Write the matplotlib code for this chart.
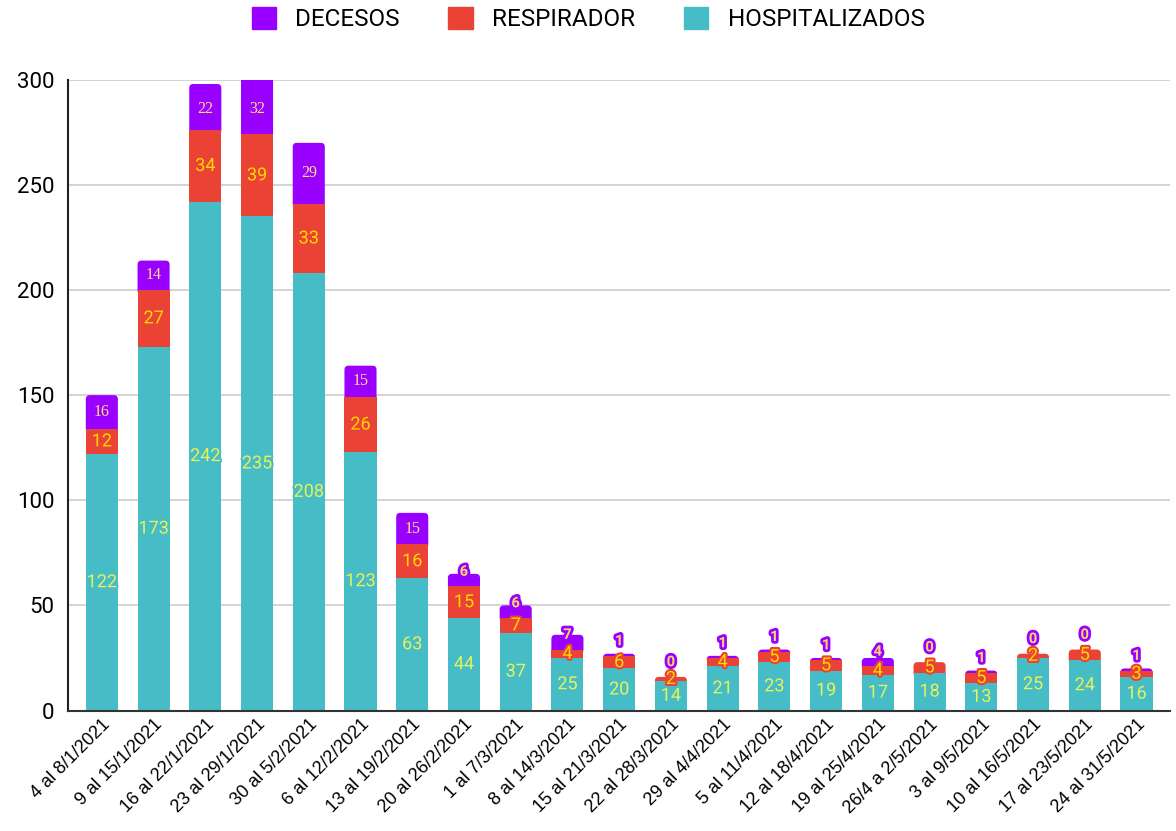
import matplotlib.pyplot as plt
import matplotlib.patheffects as pe
from matplotlib.patches import FancyBboxPatch, Patch
import numpy as np

plt.rcParams['font.family'] = ['Roboto', 'DejaVu Sans']

semanas = ['4 al 8/1/2021', '9 al 15/1/2021', '16 al 22/1/2021', '23 al 29/1/2021',
           '30 al 5/2/2021', '6 al 12/2/2021', '13 al 19/2/2021', '20 al 26/2/2021',
           '1 al 7/3/2021', '8 al 14/3/2021', '15 al 21/3/2021', '22 al 28/3/2021',
           '29 al 4/4/2021', '5 al 11/4/2021', '12 al 18/4/2021', '19 al 25/4/2021',
           '26/4 a 2/5/2021', '3 al 9/5/2021', '10 al 16/5/2021', '17 al 23/5/2021',
           '24 al 31/5/2021']
hospitalizados = [122, 173, 242, 235, 208, 123, 63, 44, 37, 25, 20, 14, 21, 23, 19, 17, 18, 13, 25, 24, 16]
respirador = [12, 27, 34, 39, 33, 26, 16, 15, 7, 4, 6, 2, 4, 5, 5, 4, 5, 5, 2, 5, 3]
decesos = [16, 14, 22, 32, 29, 15, 15, 6, 6, 7, 1, 0, 1, 1, 1, 4, 0, 1, 0, 0, 1]

c_hosp = '#46bdc6'
c_resp = '#ea4335'
c_dec = '#9900ff'

fig, ax = plt.subplots(figsize=(11.76, 8.31), dpi=100)
fig.subplots_adjust(left=0.058, right=0.995, top=0.904, bottom=0.145)

x = np.arange(len(semanas))
h = np.array(hospitalizados)
r = np.array(respirador)
d = np.array(decesos)
w = 0.62

ax.set_ylim(0, 300)
ax.set_xlim(-0.65, len(x) - 0.35)

bars_h = ax.bar(x, h, w, color=c_hosp, zorder=4)
bars_r = ax.bar(x, r, w, bottom=h, color=c_resp, zorder=3)
bars_d = ax.bar(x, d, w, bottom=h + r, color=c_dec, zorder=2)

# esquinas superiores redondeadas en el segmento más alto de cada barra
px_x = (ax.get_xlim()[1] - ax.get_xlim()[0]) / (fig.get_figwidth() * fig.dpi * 0.937)
px_y = 300 / (fig.get_figheight() * fig.dpi * 0.759)
aspect = px_y / px_x
rad = 4 * px_x
for i in range(len(x)):
    if d[i] > 0:
        seg, bot, col = bars_d[i], h[i] + r[i], c_dec
    else:
        seg, bot, col = bars_r[i], h[i], c_resp
    top = h[i] + r[i] + d[i]
    seg.set_visible(False)
    y0 = bot - 2
    box = FancyBboxPatch((x[i] - w / 2, y0), w, top - y0,
                         boxstyle=f'round,pad=0,rounding_size={rad}',
                         mutation_aspect=aspect, facecolor=col, edgecolor='none',
                         zorder=2 if col == c_dec else 3.5)
    ax.add_patch(box)

# etiquetas de valores
for i in range(len(x)):
    ax.text(x[i], h[i] / 2, str(h[i]), ha='center', va='center', fontsize=13,
            color='#e6f25a', zorder=6,
            path_effects=[pe.withStroke(linewidth=3, foreground=c_hosp)])
    ax.text(x[i], h[i] + r[i] / 2, str(r[i]), ha='center', va='center', fontsize=13,
            color='#ffd600', zorder=7,
            path_effects=[pe.withStroke(linewidth=3, foreground=c_resp)])
    top = h[i] + r[i] + d[i]
    if d[i] >= 8:
        ax.text(x[i], min(top - d[i] / 2, 286), str(d[i]), ha='center', va='center',
                fontsize=11.5, color='#ffe082', family='Liberation Serif', zorder=8)
    else:
        ax.text(x[i], top + 7 - d[i], str(d[i]), ha='center', va='center', fontsize=10.5,
                color='#ffd966', fontweight='bold', zorder=8,
                path_effects=[pe.withStroke(linewidth=4, foreground=c_dec)])

ax.set_yticks(range(0, 301, 50))
ax.tick_params(axis='y', labelsize=16, length=0, pad=10)
ax.tick_params(axis='x', length=0, pad=4)
ax.set_xticks(x)
ax.set_xticklabels(semanas, rotation=45, ha='right', rotation_mode='anchor',
                   fontsize=13, family='Liberation Sans')
ax.yaxis.grid(True, color='#cccccc', linewidth=1.2, zorder=0)
ax.set_axisbelow(True)
for s in ['top', 'right']:
    ax.spines[s].set_visible(False)
ax.spines['left'].set_color('#222222')
ax.spines['left'].set_linewidth(1.5)
ax.spines['bottom'].set_color('#333333')
ax.spines['bottom'].set_linewidth(1.5)
ax.spines['left'].set_zorder(9)
ax.spines['bottom'].set_zorder(9)

handles = [Patch(color=c_dec), Patch(color=c_resp), Patch(color=c_hosp)]
labels = ['DECESOS', 'RESPIRADOR', 'HOSPITALIZADOS']
fig.legend(handles, labels, loc='upper center', bbox_to_anchor=(0.5, 1.018),
           ncol=3, frameon=False, fontsize=17.5, handlelength=1.0, handleheight=1.0,
           columnspacing=2.0, handletextpad=0.8)

plt.savefig('out.png', dpi=100)
